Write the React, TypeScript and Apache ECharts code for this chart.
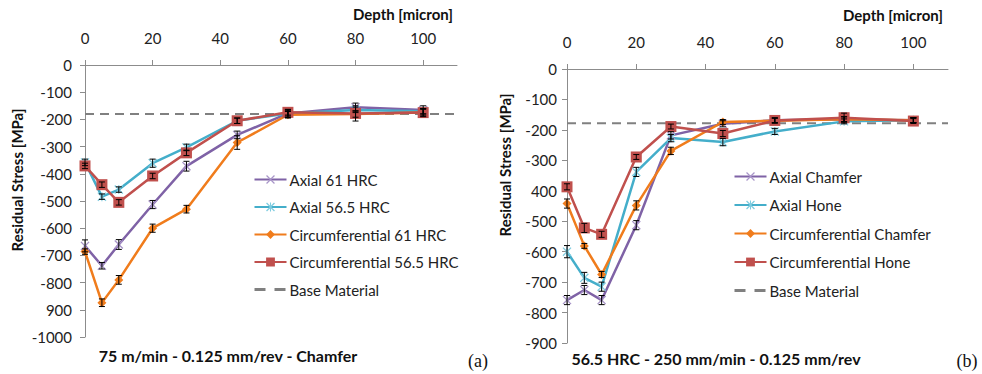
import React, { useEffect, useRef } from "react";
import * as echarts from "echarts";

// ---------- data ----------
const depths = [0, 5, 10, 20, 30, 45, 60, 80, 100];
const xTicks = [0, 20, 40, 60, 80, 100];

// Panel (a): 75 m/min - 0.125 mm/rev - Chamfer
const aNames = ["Axial 61 HRC", "Axial 56.5 HRC", "Circumferential 61 HRC", "Circumferential 56.5 HRC"];
const aAxial61 = [-665, -738, -660, -513, -372, -257, -178, -155, -165];
const aAxial565 = [-358, -484, -458, -361, -303, -205, -178, -165, -170];
const aCirc61 = [-686, -874, -790, -600, -530, -285, -183, -180, -175];
const aCirc565 = [-371, -440, -505, -408, -323, -205, -174, -178, -175];
const aErrAxial61 = [22, 12, 18, 15, 18, 14, 15, 15, 15];
const aErrAxial565 = [12, 10, 10, 15, 12, 10, 10, 10, 10];
const aErrCirc61 = [10, 14, 16, 15, 14, 25, 12, 12, 12];
const aErrCirc565 = [10, 10, 10, 10, 10, 10, 10, 28, 15];
const aBase = -180;

// Panel (b): 56.5 HRC - 250 mm/min - 0.125 mm/rev
const bNames = ["Axial Chamfer", "Axial Hone", "Circumferential Chamfer", "Circumferential Hone"];
const bAxialChamfer = [-759, -726, -759, -513, -218, -180, -168, -165, -168];
const bAxialHone = [-600, -686, -715, -338, -227, -240, -205, -172, -168];
const bCircChamfer = [-442, -581, -675, -448, -269, -174, -170, -165, -168];
const bCircHone = [-387, -522, -543, -289, -189, -212, -169, -160, -171];
const bErrAxialChamfer = [15, 15, 15, 15, 12, 10, 8, 8, 8];
const bErrAxialHone = [20, 18, 15, 15, 12, 12, 10, 8, 8];
const bErrCircChamfer = [15, 8, 10, 15, 12, 8, 8, 8, 8];
const bErrCircHone = [10, 15, 10, 8, 8, 10, 8, 15, 8];
const bBase = -178;

const legendBase = "Base Material";

// ---------- styles ----------
const FONT = "Lato, 'Open Sans', sans-serif";
const PURPLE = "#7F62A6";
const CYAN = "#44AECA";
const ORANGE = "#F07C1C";
const RED = "#C0504D";

const CROSS = "path://M0,1L1,0L5,4L9,0L10,1L6,5L10,9L9,10L5,6L1,10L0,9L4,5Z";
const STAR = "path://M0,1L1,0L5,4L9,0L10,1L6,5L10,9L9,10L5,6L1,10L0,9L4,5Z M4.4,0L5.6,0L5.6,10L4.4,10Z";

const styles = [
  { color: PURPLE, symbol: CROSS, size: 9, mColor: "#A895C8" },
  { color: CYAN, symbol: STAR, size: 9, mColor: "#7FCCE0" },
  { color: ORANGE, symbol: "diamond", size: 9, mColor: ORANGE },
  { color: RED, symbol: "rect", size: 11, mColor: RED },
];

function lineSeries(name: string, ys: number[], idx: number, st: any) {
  return {
    type: "line",
    name,
    xAxisIndex: idx,
    yAxisIndex: idx,
    data: depths.map((d, i) => [d, ys[i]]),
    symbol: st.symbol,
    symbolSize: st.size,
    lineStyle: { color: st.color, width: 2.5 },
    itemStyle: { color: st.mColor },
    z: 3,
  };
}

function errSeries(ys: number[], errs: number[], idx: number) {
  return {
    type: "custom",
    xAxisIndex: idx,
    yAxisIndex: idx,
    data: depths.map((d, i) => [d, ys[i], errs[i]]),
    encode: { x: 0, y: 1 },
    silent: true,
    z: 4,
    renderItem: (params: any, api: any) => {
      const x = api.value(0);
      const y = api.value(1);
      const e = api.value(2);
      const hi = api.coord([x, y + e]);
      const lo = api.coord([x, y - e]);
      const w = 3;
      const st = { stroke: "#000", lineWidth: 1 };
      return {
        type: "group",
        children: [
          { type: "line", shape: { x1: hi[0], y1: hi[1], x2: lo[0], y2: lo[1] }, style: st },
          { type: "line", shape: { x1: hi[0] - w, y1: hi[1], x2: hi[0] + w, y2: hi[1] }, style: st },
          { type: "line", shape: { x1: lo[0] - w, y1: lo[1], x2: lo[0] + w, y2: lo[1] }, style: st },
        ],
      };
    },
  };
}

function baseSeries(v: number, idx: number) {
  return {
    type: "line",
    name: legendBase,
    xAxisIndex: idx,
    yAxisIndex: idx,
    data: [[0, v], [110, v]],
    symbol: "none",
    lineStyle: { color: "#808080", width: 2, type: [9, 6] },
    itemStyle: { color: "rgba(0,0,0,0)" },
    z: 2,
  };
}

function xAxis(idx: number) {
  return {
    type: "value",
    gridIndex: idx,
    position: "top",
    min: 0,
    max: 110,
    interval: 20,
    axisLine: { show: true, lineStyle: { color: "#8c8c8c", width: 1 } },
    axisTick: { show: true, length: 5, lineStyle: { color: "#8c8c8c" } },
    splitLine: { show: false },
    axisLabel: {
      showMaxLabel: false,
      margin: 20,
      color: "#222",
      fontFamily: FONT,
      fontSize: 15,
      formatter: (v: number) => (xTicks.indexOf(v) >= 0 ? String(v) : ""),
    },
  };
}

function yAxis(idx: number, min: number, odd: number) {
  return {
    type: "value",
    gridIndex: idx,
    min,
    max: 0,
    interval: 100,
    axisLine: { show: true, onZero: false, lineStyle: { color: "#8c8c8c", width: 1 } },
    axisTick: { show: true, length: 5, lineStyle: { color: "#8c8c8c" } },
    splitLine: { show: false },
    axisLabel: {
      margin: idx === 0 ? 13 : 10,
      color: "#222",
      fontFamily: FONT,
      fontSize: 15,
      formatter: (v: number) => (v === odd ? String(-v) : String(v)),
    },
  };
}

function legend(names: string[], left: number, top: number, gap: number) {
  return {
    orient: "vertical",
    left,
    top,
    padding: 0,
    itemWidth: 32,
    itemHeight: 11,
    itemGap: gap,
    selectedMode: false,
    data: [
      ...names,
      { name: legendBase, lineStyle: { color: "#808080", width: 3, type: [11, 9] } },
    ],
    textStyle: { fontFamily: FONT, fontSize: 15, color: "#222", padding: [0, 0, 0, -2] },
  };
}

export default function App() {
  const ref = useRef<HTMLDivElement>(null);
  useEffect(() => {
    if (!ref.current) return;
    const chart = echarts.init(ref.current, undefined, { renderer: "svg" });
    const bold = { fontFamily: FONT, fontSize: 15, fontWeight: "bold", fill: "#111" };
    chart.setOption({
      animation: false,
      backgroundColor: "#fff",
      grid: [
        { left: 85, top: 65, width: 372, height: 272 },
        { left: 567, top: 69, width: 381, height: 274 },
      ],
      xAxis: [xAxis(0), xAxis(1)],
      yAxis: [yAxis(0, -1000, -900), yAxis(1, -900, -400)],
      legend: [legend(aNames, 253, 172, 12.5), legend(bNames, 733, 169, 13.5)],
      series: [
        lineSeries(aNames[0], aAxial61, 0, styles[0]),
        lineSeries(aNames[1], aAxial565, 0, styles[1]),
        lineSeries(aNames[2], aCirc61, 0, styles[2]),
        lineSeries(aNames[3], aCirc565, 0, styles[3]),
        baseSeries(aBase, 0),
        errSeries(aAxial61, aErrAxial61, 0),
        errSeries(aAxial565, aErrAxial565, 0),
        errSeries(aCirc61, aErrCirc61, 0),
        errSeries(aCirc565, aErrCirc565, 0),
        lineSeries(bNames[0], bAxialChamfer, 1, styles[0]),
        lineSeries(bNames[1], bAxialHone, 1, styles[1]),
        lineSeries(bNames[2], bCircChamfer, 1, styles[2]),
        lineSeries(bNames[3], bCircHone, 1, styles[3]),
        baseSeries(bBase, 1),
        errSeries(bAxialChamfer, bErrAxialChamfer, 1),
        errSeries(bAxialHone, bErrAxialHone, 1),
        errSeries(bCircChamfer, bErrCircChamfer, 1),
        errSeries(bCircHone, bErrCircHone, 1),
      ],
      graphic: [
        { type: "text", x: 453, y: 14, style: { ...bold, text: "Depth [micron]", align: "right", verticalAlign: "middle" } },
        { type: "text", x: 943, y: 15, style: { ...bold, text: "Depth [micron]", align: "right", verticalAlign: "middle" } },
        { type: "text", x: 17, y: 180, rotation: Math.PI / 2, style: { ...bold, text: "Residual Stress [MPa]", align: "center", verticalAlign: "middle" } },
        { type: "text", x: 505, y: 165, rotation: Math.PI / 2, style: { ...bold, text: "Residual Stress [MPa]", align: "center", verticalAlign: "middle" } },
        { type: "text", x: 228, y: 355, style: { ...bold, fontSize: 16, text: "75 m/min - 0.125 mm/rev - Chamfer", align: "center", verticalAlign: "middle" } },
        { type: "text", x: 716, y: 358, style: { ...bold, fontSize: 16, text: "56.5 HRC - 250 mm/min - 0.125 mm/rev", align: "center", verticalAlign: "middle" } },
        { type: "text", x: 478, y: 361, style: { text: "(a)", fontFamily: "'Liberation Serif', 'DejaVu Serif', serif", fontSize: 18, fill: "#111", align: "center", verticalAlign: "middle" } },
        { type: "text", x: 967, y: 361, style: { text: "(b)", fontFamily: "'Liberation Serif', 'DejaVu Serif', serif", fontSize: 18, fill: "#111", align: "center", verticalAlign: "middle" } },
      ],
    });
    return () => chart.dispose();
  }, []);
  return <div ref={ref} style={{ width: 982, height: 374, position: "absolute", left: 0, top: 0 }} />;
}
